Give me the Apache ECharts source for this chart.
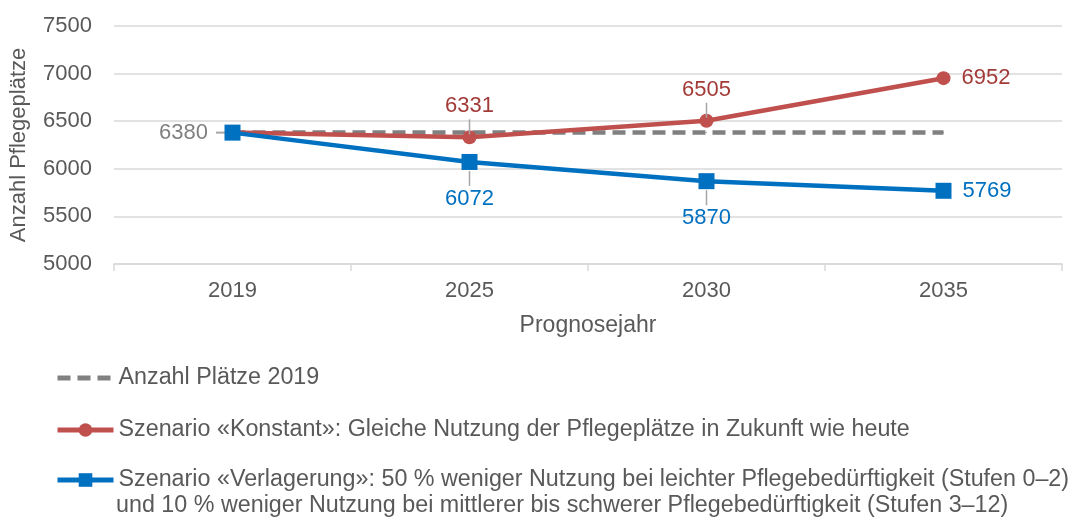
<!DOCTYPE html>
<html>
<head>
<meta charset="utf-8">
<script src="https://cdn.jsdelivr.net/npm/echarts@6/dist/echarts.min.js"></script>
<style>
  html, body { margin: 0; padding: 0; background: #fff; }
  #chart { width: 1078px; height: 518px; }
</style>
</head>
<body>
<div id="chart"></div>
<script>
const years = ['2019', '2025', '2030', '2035']
const baseline = [6380, 6380, 6380, 6380]
const konstant = [6380, 6331, 6505, 6952]
const verlagerung = [6380, 6072, 5870, 5769]
const names = [
  'Anzahl Plätze 2019',
  'Szenario «Konstant»: Gleiche Nutzung der Pflegeplätze in Zukunft wie heute',
  'Szenario «Verlagerung»: 50 % weniger Nutzung bei leichter Pflegebedürftigkeit (Stufen 0–2)'
]
const nameCont = 'und 10 % weniger Nutzung bei mittlerer bis schwerer Pflegebedürftigkeit (Stufen 3–12)'

// where each value label sits (null = no label)
const greyPos = ['left', null, null, null]
const redPos = [null, 'top', 'top', 'right']
const bluePos = [null, 'bottom', 'bottom', 'right']

const FONT = 'Liberation Sans, Arial, sans-serif'
const RED = '#C0504D', BLUE = '#0070C0', GREY = '#808080', TXT = '#595959'
const LEAD = '#A6A6A6'

function points(values, pos, color) {
  const rich = {
    a: { fontSize: 22, fontFamily: FONT, color, lineHeight: 26 },
    g: { fontSize: 22, fontFamily: FONT, color, lineHeight: 26, padding: [0, 8, 0, 0] },
    v: { width: 1.5, height: 15, lineHeight: 15, backgroundColor: LEAD },
    h: { width: 12, height: 2, lineHeight: 2, backgroundColor: LEAD }
  }
  return values.map((v, i) => {
    const p = pos[i]
    if (!p) return { value: v, label: { show: false } }
    let fmt, distance
    if (p === 'top') { fmt = `{a|${v}}\n{v| }`; distance = -4 }
    else if (p === 'bottom') { fmt = `{v| }\n{a|${v}}`; distance = 1 }
    else if (p === 'left') { fmt = `{g|${v}}{h|}`; distance = 4 }
    else { fmt = `{a|${v}}`; distance = 11 }
    return { value: v, label: { show: true, position: p, distance, formatter: fmt, rich } }
  })
}

function legendFor(name, top) {
  return {
    left: 55, top, padding: 0, itemWidth: 56, itemHeight: 17,
    textStyle: { color: TXT, fontSize: 23.3, fontFamily: FONT, lineHeight: 26 },
    data: [name]
  }
}

const chart = echarts.init(document.getElementById('chart'))
chart.setOption({
  animation: false,
  grid: { left: 109, right: 16, top: 26, bottom: 254 },
  xAxis: {
    type: 'category', data: years,
    name: 'Prognosejahr', nameLocation: 'middle', nameGap: 50,
    nameTextStyle: { color: TXT, fontSize: 23, fontFamily: FONT },
    axisLine: { lineStyle: { color: '#D9D9D9', width: 1.5 } },
    axisTick: { show: true, length: 7, lineStyle: { color: '#D9D9D9', width: 1.5 } },
    axisLabel: { color: TXT, fontSize: 22, fontFamily: FONT, margin: 16 }
  },
  yAxis: {
    type: 'value', min: 5000, max: 7500, interval: 500,
    name: 'Anzahl Pflegeplätze', nameLocation: 'middle', nameGap: 84, nameRotate: 90,
    nameTextStyle: { color: TXT, fontSize: 22, fontFamily: FONT },
    axisLine: { show: false }, axisTick: { show: false },
    splitLine: { lineStyle: { color: '#D9D9D9', width: 1.5 } },
    axisLabel: { color: TXT, fontSize: 22, fontFamily: FONT, margin: 22, formatter: v => String(v) }
  },
  legend: [
    legendFor({ name: names[0], itemStyle: { opacity: 0 }, lineStyle: { color: GREY, width: 5, type: [13, 7] } }, 365),
    legendFor({ name: names[1], lineStyle: { color: RED, width: 5 } }, 417),
    legendFor({ name: names[2], lineStyle: { color: BLUE, width: 5 } }, 467)
  ],
  title: {
    text: nameCont, left: 116, top: 493, padding: 0,
    textStyle: { color: TXT, fontSize: 23.3, fontWeight: 'normal', fontFamily: FONT, lineHeight: 26 }
  },
  series: [
    {
      name: names[0], type: 'line', data: points(baseline, greyPos, GREY),
      symbol: 'circle', symbolSize: 1,
      lineStyle: { color: GREY, width: 4.5, type: [13, 7] },
      itemStyle: { color: GREY }, z: 1
    },
    {
      name: names[1], type: 'line', data: points(konstant, redPos, '#A33B38'),
      symbol: 'circle', symbolSize: 14,
      lineStyle: { color: RED, width: 4.5 },
      itemStyle: { color: RED }, z: 2
    },
    {
      name: names[2], type: 'line', data: points(verlagerung, bluePos, BLUE),
      symbol: 'rect', symbolSize: 16,
      lineStyle: { color: BLUE, width: 4.5 },
      itemStyle: { color: BLUE }, z: 3
    }
  ]
})
</script>
</body>
</html>
